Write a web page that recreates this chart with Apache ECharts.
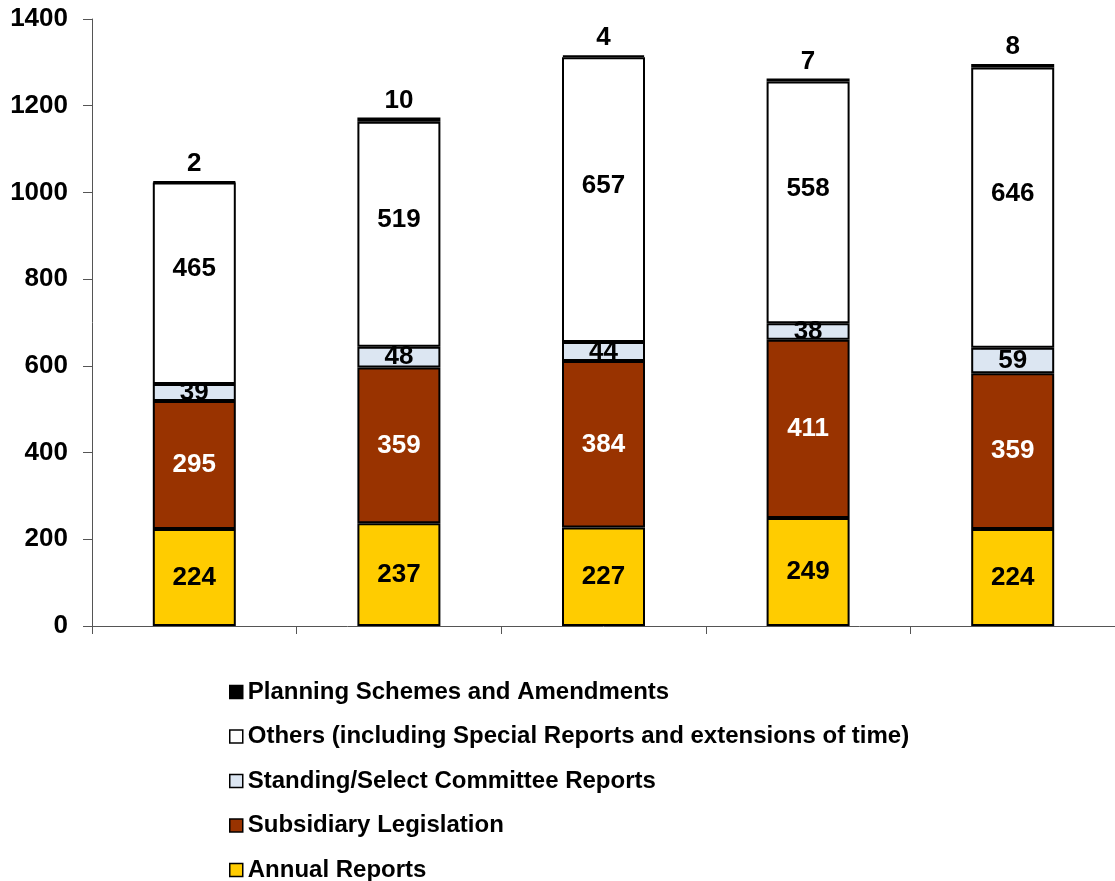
<!DOCTYPE html>
<html>
<head>
<meta charset="utf-8">
<script src="https://cdn.jsdelivr.net/npm/echarts@6/dist/echarts.min.js"></script>
<style>html,body{margin:0;padding:0;background:#fff}#c{width:1115px;height:881px}</style>
</head>
<body>
<div id="c"></div>
<script>
const categories = ['1', '2', '3', '4', '5'];
const annualReports = [224, 237, 227, 249, 224];
const subsidiaryLegislation = [295, 359, 384, 411, 359];
const committeeReports = [39, 48, 44, 38, 59];
const others = [465, 519, 657, 558, 646];
const planningSchemes = [2, 10, 4, 7, 8];
const yTicks = { min: 0, max: 1400, interval: 200 };

const names = {
  annual: 'Annual Reports',
  subsid: 'Subsidiary Legislation',
  comm: 'Standing/Select Committee Reports',
  others: 'Others (including Special Reports and extensions of time)',
  plan: 'Planning Schemes and Amendments'
};

const FONT = 'Liberation Sans, Arial, sans-serif';
const lbl = (color, pos) => ({
  show: true, position: pos || 'inside', color: color,
  fontFamily: FONT, fontWeight: 'bold', fontSize: 26
});
const mk = (name, data, color, label) => ({
  name, type: 'bar', stack: 'total', data,
  barWidth: 83,
  itemStyle: { color, borderColor: '#000', borderWidth: 2 },
  label
});

const chart = echarts.init(document.getElementById('c'), null, { renderer: 'canvas' });
chart.setOption({
  animation: false,
  backgroundColor: '#fff',
  grid: { left: 92, top: 19, width: 1028, bottom: 255, containLabel: false },
  xAxis: {
    type: 'category', data: categories, boundaryGap: true,
    axisLine: { lineStyle: { color: '#555', width: 1 } },
    axisTick: { show: true, length: 8, lineStyle: { color: '#555' } },
    axisLabel: { show: false }
  },
  yAxis: {
    type: 'value', min: yTicks.min, max: yTicks.max, interval: yTicks.interval,
    axisLine: { show: true, lineStyle: { color: '#555', width: 1 } },
    axisTick: { show: true, length: 9, lineStyle: { color: '#555' } },
    splitLine: { show: false },
    axisLabel: { color: '#000', fontFamily: FONT, fontWeight: 'bold', fontSize: 26, margin: 24,
      formatter: v => String(v) }
  },
  legend: {
    orient: 'vertical', left: 229, top: 680, height: 230, padding: 0,
    itemWidth: 13, itemHeight: 13, itemGap: 20.5,
    data: [names.plan, names.others, names.comm, names.subsid, names.annual],
    icon: 'rect',
    itemStyle: { borderColor: '#000', borderWidth: 1.5 },
    textStyle: { color: '#000', fontFamily: FONT, fontWeight: 'bold', fontSize: 24, lineHeight: 24, padding: [0, 0, 0, 0] }
  },
  series: [
    mk(names.annual, annualReports, '#FFCC00', lbl('#000')),
    mk(names.subsid, subsidiaryLegislation, '#993300', lbl('#fff')),
    mk(names.comm, committeeReports, '#DCE6F2', lbl('#000')),
    mk(names.others, others, '#FFFFFF', Object.assign(lbl('#000'), { offset: [0, -14] })),
    mk(names.plan, planningSchemes, '#000000', Object.assign(lbl('#000', 'top'), { distance: 4 }))
  ]
});
</script>
</body>
</html>
